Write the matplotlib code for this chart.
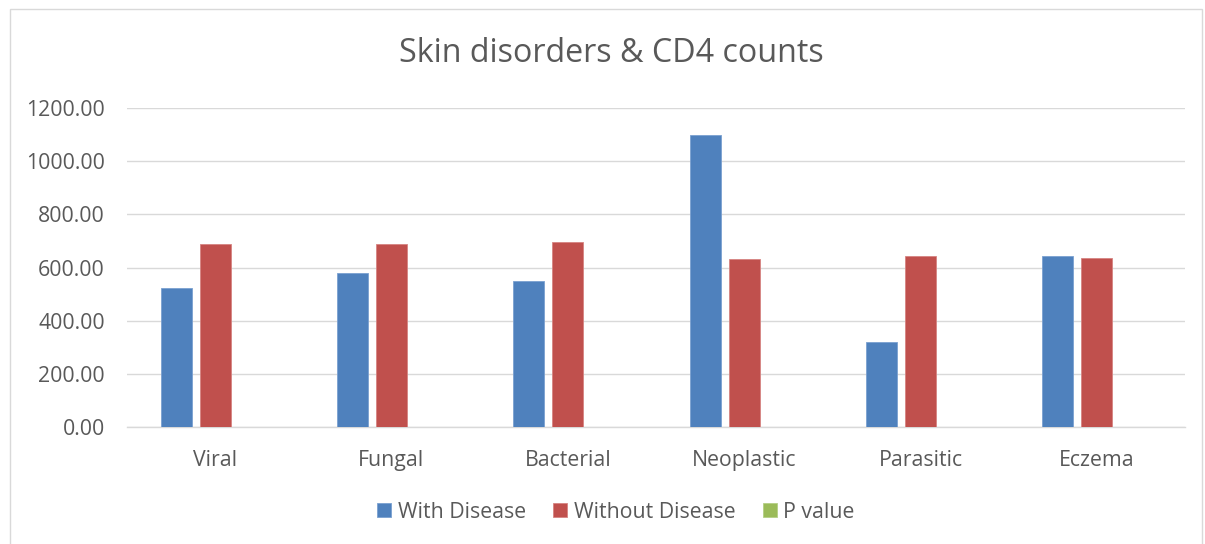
import matplotlib
matplotlib.use("Agg")
import matplotlib.pyplot as plt
import numpy as np
from matplotlib.patches import Rectangle

categories = ["Viral", "Fungal", "Bacterial", "Neoplastic", "Parasitic", "Eczema"]
with_disease = [522.5, 577.5, 547.5, 1100.0, 320.0, 642.5]
without_disease = [690.0, 687.5, 697.5, 633.75, 645.0, 637.5]
p_value = [0.0, 0.0, 0.0, 0.0, 0.0, 0.0]
series_names = ["With Disease", "Without Disease", "P value"]
yticks = [0, 200, 400, 600, 800, 1000, 1200]

colors = ["#4f81bd", "#c0504d", "#9bbb59"]
edges = ["#7aa0d0", "#d68482", "#b5cf85"]
text_color = "#595959"

plt.rcParams['font.family'] = ['Open Sans', 'DejaVu Sans']

W, H = 1205, 544
fig = plt.figure(figsize=(W / 100, H / 100), dpi=100)
fig.patch.set_facecolor("white")
fig.patches.append(Rectangle((10 / W, 0 - 0.01), (1202 - 10) / W, (H - 9) / H + 0.01,
                             transform=fig.transFigure, fill=False,
                             edgecolor="#d9d9d9", linewidth=1.0))

ax = fig.add_axes([127 / W, 1 - 427 / H, (1185 - 127) / W, (427 - 108) / H])
x = np.arange(len(categories))
pitch = 0.221
bw = 0.176
handles = []
for i, (vals, name) in enumerate(zip([with_disease, without_disease, p_value], series_names)):
    b = ax.bar(x + (i - 1) * pitch, vals, width=bw, color=colors[i],
               edgecolor=edges[i], linewidth=0.6, label=name, zorder=3)
    handles.append(b)

ax.set_xlim(-0.5, len(categories) - 0.5)
ax.set_ylim(0, 1200)
ax.set_yticks(yticks)
ax.set_yticklabels([f"{v:.2f}" for v in yticks])
ax.set_xticks(x)
ax.set_xticklabels(categories)
ax.grid(axis="y", color="#d9d9d9", linewidth=1.0, zorder=0)
ax.set_axisbelow(True)
for s in ["top", "right", "left"]:
    ax.spines[s].set_visible(False)
ax.spines["bottom"].set_color("#d9d9d9")
ax.spines["bottom"].set_linewidth(1.0)
ax.tick_params(axis="both", length=0, colors=text_color, labelsize=15.3)
ax.tick_params(axis="y", pad=16)
ax.tick_params(axis="x", pad=16.5)

fig.text(611 / W, 1 - 53 / H, "Skin disorders & CD4 counts", ha="center", va="center",
         fontsize=23.2, color=text_color, fontweight="normal")

leg = fig.legend(handles=handles, labels=series_names, loc="center",
                 bbox_to_anchor=(616 / W, 1 - 512 / H), ncol=3, frameon=False,
                 fontsize=15.3, handlelength=0.66, handleheight=0.66,
                 handletextpad=0.3, columnspacing=1.3)
for t in leg.get_texts():
    t.set_color(text_color)

fig.savefig("out.png", dpi=100, facecolor="white")
